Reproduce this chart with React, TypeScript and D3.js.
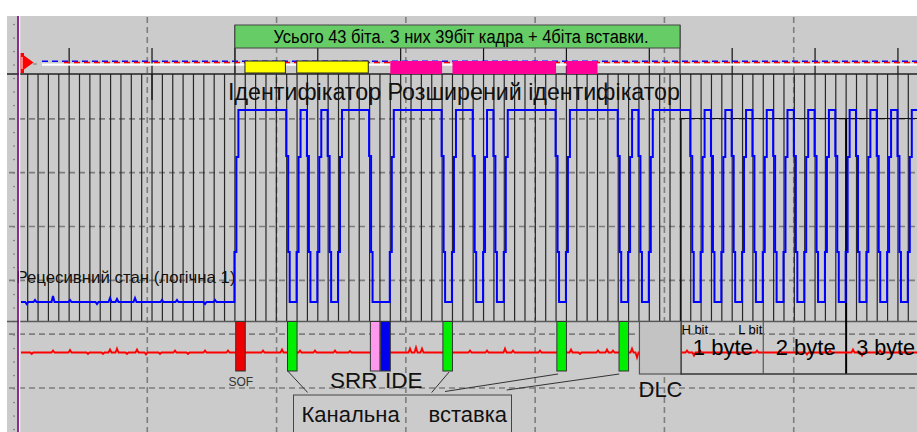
import React from 'react';
import * as d3 from 'd3';

const W = 917;
const H = 432;

// Logic level per bit slot 0..85 (1 = dominant, drawn at the top; 0 = recessive)
const bitLevels: number[] = [
  0, 0, 0, 0, 0, 0, 0, 0, 0, 0, 0, 0, 0, 0, 0, 0, 0, 0, 0, 0, // 0-19 idle
  1, 1, 1, 1, 1, 0, 1, 0, 1, 0, // 20-29
  1, 1, 1, 0, 0, 1, 1, 1, 1, 1, // 30-39
  0, 1, 1, 0, 1, 0, 1, 1, 1, 1, // 40-49
  1, 0, 1, 1, 1, 1, 1, 0, 1, 0, // 50-59
  1, 1, 1, 1, 0, 1, 0, 1, 0, 1, // 60-69
  0, 1, 0, 1, 0, 1, 0, 1, 0, 1, // 70-79
  0, 1, 0, 1, 0, 1, // 80-85
];

// small noise on the idle blue level: [x, dy]
const blueIdleNoise: [number, number][] = [
  [26.7, 2], [35, -2], [53, -6], [70, -2], [97, 2], [110, -4], [117, -3],
  [135, -4], [162, -2], [177, -2], [205, 2], [215, -2],
];

// noise on the red trace: [x, dy]
const redNoise: [number, number][] = [
  [31.7, 1.5], [53, -2], [70, -2.5], [88, 1.5], [103, 1.5], [110, -3], [117, -4],
  [127, 1.5], [137, -3], [146, 2], [160, 1.5], [175, -2], [188, 1.5], [205, -2],
  [228, -2], [263, -2], [282, -3], [300, -2], [315, -2], [335, -2], [350, -1.5],
  [410, -4], [416, -5], [422, -4], [470, -2], [487, -2], [505, -4], [513, -2],
  [540, -2], [571, -3], [580, 1.5], [598, -2], [607, -3], [613, -2], [632, -4],
  [637, 5], [687, -2], [694, 3], [700, -2], [757, -2], [780, -2], [807, 2],
  [830, -2], [853, -3], [862, 3], [880, -2], [900, -2],
];

// field markers on the red trace
const fieldMarks = [
  { bit: 20, kind: 'SOF' },
  { bit: 25, kind: 'stuff' },
  { bit: 33, kind: 'SRR' },
  { bit: 34, kind: 'IDE' },
  { bit: 40, kind: 'stuff' },
  { bit: 51, kind: 'stuff' },
  { bit: 57, kind: 'stuff' },
];
const markColor: Record<string, string> = {
  SOF: '#ee0000',
  stuff: '#00ee00',
  SRR: '#ff99ee',
  IDE: '#0000ee',
};

// identifier bars [fromBit, toBit)
const idBars = [
  { from: 21, to: 25, kind: 'base' },
  { from: 26, to: 33, kind: 'base' },
  { from: 35, to: 40, kind: 'ext' },
  { from: 41, to: 51, kind: 'ext' },
  { from: 52, to: 55, kind: 'ext' },
];

const dlcRange = [59, 63];
const byteStarts = [63, 71, 79, 87];
const byteLabels = ['1 byte', '2 byte', '3 byte'];
const stuffLeaderBits = [25, 40, 51, 57];

const titleText = 'Усього 43 біта. З них 39біт кадра + 4біта вставки.';
const idText = 'Ідентифікатор Розширений ідентифікатор';
const idleText = 'Рецесивний стан (логічна 1)';

const FONT = "'Liberation Sans', Arial, sans-serif";

export default function App() {
  const xs = d3.scaleLinear().domain([0, 85]).range([27.7, 908.3]);
  const ys = d3.scaleLinear().domain([0, 1]).range([302, 110]);
  const gx = d3.scaleLinear().domain([0, 7]).range([18, 923]);
  const gy = d3.scaleLinear().domain([0, 6]).range([65, 388]);
  const tickY = d3.scaleLinear().domain([0, 24]).range([65, 389]);

  const yH = ys(1);
  const yL = ys(0);

  // blue waveform
  const pts: [number, number][] = [[21, ys(bitLevels[0])]];
  blueIdleNoise.forEach(([x, dy]) => {
    pts.push([x - 1.5, yL], [x, yL + dy], [x + 1.5, yL]);
  });
  for (let k = 1; k < bitLevels.length; k++) {
    const prev = bitLevels[k - 1];
    const cur = bitLevels[k];
    if (prev === cur) continue;
    const xb = xs(k) - 0.5;
    if (prev === 1) {
      const a = ys(0.76), b = ys(0.26);
      pts.push([xb, yH], [xb, a], [xb + 2, a], [xb + 2, b], [xb + 3.5, b], [xb + 3.5, yL]);
    } else {
      const a = ys(0.26), b = ys(0.755);
      pts.push([xb, yL], [xb, a], [xb + 2, a], [xb + 2, b], [xb + 4, b], [xb + 4, yH]);
    }
  }
  pts.push([W, ys(bitLevels[bitLevels.length - 1])]);
  const line = d3.line();
  const bluePath = line(pts) || '';

  const yR = 352.5;
  const rpts: [number, number][] = [[21, yR]];
  redNoise.forEach(([x, dy]) => {
    rpts.push([x - 1.5, yR], [x, yR + dy], [x + 1.5, yR]);
  });
  rpts.push([W, yR]);
  const redPath = line(rpts) || '';

  const bitIdx = d3.range(0, 86);
  const byteTicks = d3.range(4, 86, 8);
  const vGrid = d3.range(1, 7);
  const hGrid = d3.range(1, 7);
  const minorTicks = d3.range(-3, 29);

  const bitW = xs(1) - xs(0);

  return (
    <svg
      width={W}
      height={H}
      style={{ position: 'absolute', left: 0, top: 0, display: 'block' }}
      fontFamily={FONT}
    >
      <rect x={0} y={0} width={W} height={H} fill="#ffffff" />
      <rect x={7} y={16} width={W - 7} height={H - 16} fill="#cbcbcb" />

      {/* left minor ticks */}
      {minorTicks.map((t) => {
        const y = tickY(t);
        if (y < 18 || y > H) return null;
        return <rect key={'mt' + t} x={13} y={y - 0.6} width={2} height={1.3} fill="#8a8a8a" />;
      })}

      {/* dashed grid */}
      {hGrid.map((i) => (
        <line key={'hg' + i} x1={9} x2={W} y1={gy(i)} y2={gy(i)} stroke="#7e7e7e" strokeWidth={1.6} strokeDasharray="6 4" />
      ))}
      {vGrid.map((i) => (
        <line key={'vg' + i} x1={gx(i)} x2={gx(i)} y1={17} y2={H} stroke="#7e7e7e" strokeWidth={1.6} strokeDasharray="6 4" />
      ))}

      {/* bit lines */}
      {bitIdx.map((k) => (
        <line key={'b' + k} x1={xs(k)} x2={xs(k)} y1={74} y2={321} stroke="#262626" strokeWidth={1.2} />
      ))}
      <line x1={7} x2={W} y1={74} y2={74} stroke="#222" strokeWidth={1.5} />
      <line x1={7} x2={W} y1={321.5} y2={321.5} stroke="#5a5a5a" strokeWidth={1.5} />

      {/* byte tick lines */}
      {byteTicks.map((k) => (
        <line key={'bt' + k} x1={xs(k)} x2={xs(k)} y1={48} y2={k === 12 ? 100 : 74} stroke="#111" strokeWidth={1.2} />
      ))}

      {/* trigger marker lines */}
      <rect x={42} y={63.5} width={W - 42} height={2.2} fill="#ffffff" />
      <line x1={42} x2={W} y1={61.2} y2={61.2} stroke="#0000ff" strokeWidth={1.5} strokeDasharray="6 4" />
      <line x1={63} x2={W} y1={62.6} y2={62.6} stroke="#ff0000" strokeWidth={1.5} strokeDasharray="6 4" strokeDashoffset={-1} />
      <rect x={20.5} y={53} width={3.5} height={20} fill="#ff0000" />
      <polygon points="24,55.5 33.5,62.5 24,69.5" fill="#ff0000" />
      <line x1={22} x2={22} y1={57} y2={69} stroke="#ffffff" strokeWidth={1} />
      <line x1={33} x2={37} y1={64} y2={64} stroke="#777" strokeWidth={1} />

      {/* green title box */}
      <line x1={xs(20)} x2={xs(20)} y1={25} y2={74} stroke="#333" strokeWidth={1.2} />
      <line x1={680} x2={680} y1={25} y2={74} stroke="#333" strokeWidth={1.2} />
      <rect x={xs(20)} y={25} width={680 - xs(20)} height={23} fill="#66cc66" stroke="#444" strokeWidth={1} />
      <text x={273.5} y={43} fontSize={18} textLength={375} lengthAdjust="spacingAndGlyphs" fill="#000">
        {titleText}
      </text>

      {/* identifier bars */}
      {idBars.map((b, i) =>
        b.kind === 'base' ? (
          <rect key={'id' + i} x={xs(b.from) - 0.3} y={61} width={xs(b.to) - xs(b.from) - 1} height={12} fill="#ffff00" stroke="#222" strokeWidth={1} />
        ) : (
          <rect key={'id' + i} x={xs(b.from)} y={61} width={xs(b.to) - xs(b.from)} height={13} fill="#ff0099" />
        )
      )}

      <text x={228} y={100} fontSize={23} textLength={452} lengthAdjust="spacingAndGlyphs" fill="#111">
        {idText}
      </text>

      {/* byte frame upper lines */}
      <line x1={xs(byteStarts[0]) + 0.5} x2={W} y1={118.5} y2={118.5} stroke="#111" strokeWidth={1.2} />
      <line x1={xs(byteStarts[0]) + 0.5} x2={xs(byteStarts[0]) + 0.5} y1={118.5} y2={374} stroke="#111" strokeWidth={1.6} />
      <line x1={xs(byteStarts[2])} x2={xs(byteStarts[2])} y1={118.5} y2={374} stroke="#000" strokeWidth={2} />

      {/* blue waveform */}
      <path d={bluePath} fill="none" stroke="#0000ff" strokeWidth={2} strokeLinejoin="miter" />

      <text x={16.5} y={283} fontSize={16.5} textLength={219} lengthAdjust="spacingAndGlyphs" fill="#111">
        {idleText}
      </text>

      {/* red trace */}
      <path d={redPath} fill="none" stroke="#ff0000" strokeWidth={1.8} />

      {/* field marks */}
      {fieldMarks.map((m, i) => (
        <rect key={'fm' + i} x={xs(m.bit) + 0.8} y={321.5} width={bitW - 0.8} height={49.5} fill={markColor[m.kind]} stroke="#333" strokeWidth={1} />
      ))}
      <rect x={xs(dlcRange[0]) + 0.5} y={321.5} width={xs(dlcRange[1]) - xs(dlcRange[0])} height={52.5} fill="#c3c3c3" stroke="#555" strokeWidth={1.2} />

      {/* byte area */}
      <line x1={xs(byteStarts[0])} x2={W} y1={374} y2={374} stroke="#333" strokeWidth={1.4} />
      <line x1={xs(byteStarts[1])} x2={xs(byteStarts[1])} y1={321.5} y2={374} stroke="#555" strokeWidth={1.2} />
      <text x={xs(byteStarts[0]) + 1} y={333.5} fontSize={13} fill="#000">H bit</text>
      <text x={xs(byteStarts[1]) - 1} y={333.5} fontSize={13} fill="#000" textAnchor="end">L bit</text>
      {byteLabels.map((t, i) =>
        i < 2 ? (
          <text
            key={'bl' + i}
            x={(xs(byteStarts[i]) + xs(byteStarts[i + 1])) / 2 + 1}
            y={355}
            fontSize={22}
            textAnchor="middle"
            fill="#000"
          >
            {t}
          </text>
        ) : (
          <text
            key={'bl' + i}
            x={xs(byteStarts[i]) + 10}
            y={355}
            fontSize={22}
            textLength={W - 2 - (xs(byteStarts[i]) + 10)}
            lengthAdjust="spacingAndGlyphs"
            fill="#000"
          >
            {t}
          </text>
        )
      )}

      {/* labels */}
      <text x={228.5} y={386} fontSize={12} fill="#333">SOF</text>
      <text x={330} y={388} fontSize={22.5} fill="#111">SRR</text>
      <text x={385} y={388} fontSize={22.5} fill="#111">IDE</text>
      <text x={638.5} y={396.5} fontSize={22} fill="#111">DLC</text>

      {/* leader lines to the stuffing label */}
      <line x1={xs(stuffLeaderBits[0]) + 1} y1={371} x2={307.7} y2={392.5} stroke="#333" strokeWidth={1} />
      <line x1={xs(stuffLeaderBits[1]) + 7} y1={372} x2={431.7} y2={392.5} stroke="#333" strokeWidth={1} />
      <line x1={xs(stuffLeaderBits[2]) + 2} y1={374} x2={445} y2={391.5} stroke="#333" strokeWidth={1} />
      <line x1={xs(stuffLeaderBits[3]) + 1} y1={374} x2={506.7} y2={390} stroke="#333" strokeWidth={1} />

      <rect x={293.5} y={395} width={218} height={50} fill="none" stroke="#444" strokeWidth={1} />
      <text x={301.5} y={421.5} fontSize={22} fill="#111">Канальна</text>
      <text x={428.5} y={421.5} fontSize={22} fill="#111">вставка</text>

      {/* left cursor */}
      <line x1={18} x2={18} y1={16} y2={H} stroke="#800080" strokeWidth={1.6} />
      <line x1={19.6} x2={19.6} y1={16} y2={H} stroke="#ffffff" strokeWidth={1.2} />
    </svg>
  );
}
